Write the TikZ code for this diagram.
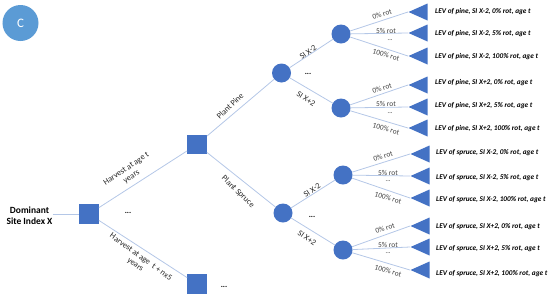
\documentclass[tikz,border=0pt]{standalone}
\usepackage{fontspec}
\setmainfont{Carlito}
\usetikzlibrary{shapes.geometric}
\definecolor{nodeblue}{HTML}{4472C4}
\definecolor{cblue}{HTML}{5B9BD5}
\definecolor{lineblue}{HTML}{B4C7E7}
\definecolor{txtgrey}{HTML}{404040}
\tikzset{
  sqbox/.style={rectangle, fill=nodeblue, minimum size=19.5bp, inner sep=0pt},
  chance/.style={circle, fill=nodeblue, minimum size=19bp, inner sep=0pt},
  endtri/.style={isosceles triangle, shape border rotate=180, isosceles triangle stretches,
     fill=nodeblue, minimum height=19bp, minimum width=17bp, inner sep=0pt, anchor=apex},
  conn/.style={draw=lineblue, line width=0.8bp},
  lev/.style={anchor=west, font=\fontsize{7.3}{8}\selectfont\bfseries\itshape, inner sep=0pt},
  rot/.style={font=\fontsize{7.5}{8}\selectfont, text=txtgrey, inner sep=0pt},
  elab/.style={font=\fontsize{8.3}{9.3}\selectfont, align=center, inner sep=0pt, text=black!85},
  dots/.style={font=\fontsize{8}{9}\selectfont\bfseries, inner sep=0pt},
  sdots/.style={font=\fontsize{6}{7}\selectfont, inner sep=0pt}
}
\begin{document}
\begin{tikzpicture}[x=1bp,y=-1bp]
\useasboundingbox (0,0) rectangle (550,296);
\node[circle, fill=cblue, minimum size=36bp, inner sep=0pt, text=white, font=\fontsize{13}{14}\selectfont] (lbl) at (20.5,23) {C};

\node[font=\fontsize{9.5}{11}\selectfont\bfseries, align=center, inner sep=0pt] (root) at (29.5,216) {Dominant\\Site Index X};
\node[sqbox] (s1) at (89,214) {};
\node[sqbox] (s2) at (197,144.5) {};
\node[sqbox] (s3) at (197,284) {};
\draw[conn] (root.east |- s1) -- (s1);
\draw[conn] (s1) -- (s2);
\draw[conn] (s1) -- (s3);
\node[dots] (d1) at (128,213) {...};
\node[dots] (d2) at (224,287) {...};
\node[elab, rotate=34] (h1) at (129,173) {Harvest at age t\\years};
\node[elab, rotate=-36] (h2) at (138,261) {Harvest at age\ \ t + nx5\\years};

\node[chance] (pine) at (281.5,73) {};
\node[chance] (spruce) at (283,213) {};
\draw[conn] (s2) -- (pine);
\draw[conn] (s2) -- (spruce);
\node[elab, rotate=44] (pp) at (230,106) {Plant Pine};
\node[elab, rotate=-44] (ps) at (238,192) {Plant Spruce};

% pine sub-tree
\node[chance] (pa) at (341,34) {};
\node[chance] (pb) at (341,108) {};
\draw[conn] (pine) -- (pa);
\draw[conn] (pine) -- (pb);
\node[dots] (pd) at (308,74) {...};
\node[elab, rotate=36] (pla) at (308,52) {SI X-2};
\node[elab, rotate=-33] (plb) at (306,99) {SI X+2};

% spruce sub-tree
\node[chance] (sa) at (343,175) {};
\node[chance] (sb) at (343,250) {};
\draw[conn] (spruce) -- (sa);
\draw[conn] (spruce) -- (sb);
\node[dots] (sd) at (312,217) {...};
\node[elab, rotate=34] (sla) at (312,190) {SI X-2};
\node[elab, rotate=-36] (slb) at (307,238) {SI X+2};

% triangles and LEV labels
\foreach \p/\ty/\ly/\txt [count=\i] in {
  pa/12/12/{LEV of pine, SI X-2, 0\% rot, age t},
  pa/33/34/{LEV of pine, SI X-2, 5\% rot, age t},
  pa/56/57/{LEV of pine, SI X-2, 100\% rot, age t},
  pb/85/83/{LEV of pine, SI X+2, 0\% rot, age t},
  pb/107/106/{LEV of pine, SI X+2, 5\% rot, age t},
  pb/128/129/{LEV of pine, SI X+2, 100\% rot, age t}} {
  \node[endtri] (t\i) at (408,\ty) {};
  \draw[conn] (\p) -- (t\i.apex);
  \node[lev] (l\i) at (435,\ly) {\txt};
}
\foreach \p/\ty/\ly/\txt [count=\i] in {
  sa/154/153/{LEV of spruce, SI X-2, 0\% rot, age t},
  sa/176/178/{LEV of spruce, SI X-2, 5\% rot, age t},
  sa/198/200/{LEV of spruce, SI X-2, 100\% rot, age t},
  sb/226/227/{LEV of spruce, SI X+2, 0\% rot, age t},
  sb/247/249/{LEV of spruce, SI X+2, 5\% rot, age t},
  sb/270/274/{LEV of spruce, SI X+2, 100\% rot, age t}} {
  \node[endtri] (u\i) at (410,\ty) {};
  \draw[conn] (\p) -- (u\i.apex);
  \node[lev] (m\i) at (436,\ly) {\txt};
}

% rot labels pine
\node[rot, rotate=18] (r1) at (382,14) {0\% rot};
\node[rot] (r2) at (386,30.5) {5\% rot};
\node[sdots] (r3) at (390,40) {...};
\node[rot, rotate=-16] (r4) at (386,55) {100\% rot};
\node[rot, rotate=18] (r5) at (382,88) {0\% rot};
\node[rot] (r6) at (386,104) {5\% rot};
\node[sdots] (r7) at (390,113) {...};
\node[rot, rotate=-16] (r8) at (386,129) {100\% rot};
% rot labels spruce
\node[rot, rotate=18] (q1) at (383,156) {0\% rot};
\node[rot] (q2) at (388,173) {5\% rot};
\node[sdots] (q3) at (388,181) {...};
\node[rot, rotate=-16] (q4) at (388,198) {100\% rot};
\node[rot, rotate=18] (q5) at (385,228) {0\% rot};
\node[rot] (q6) at (388,245) {5\% rot};
\node[sdots] (q7) at (388,253) {...};
\node[rot, rotate=-16] (q8) at (388,271) {100\% rot};
\end{tikzpicture}
\end{document}
